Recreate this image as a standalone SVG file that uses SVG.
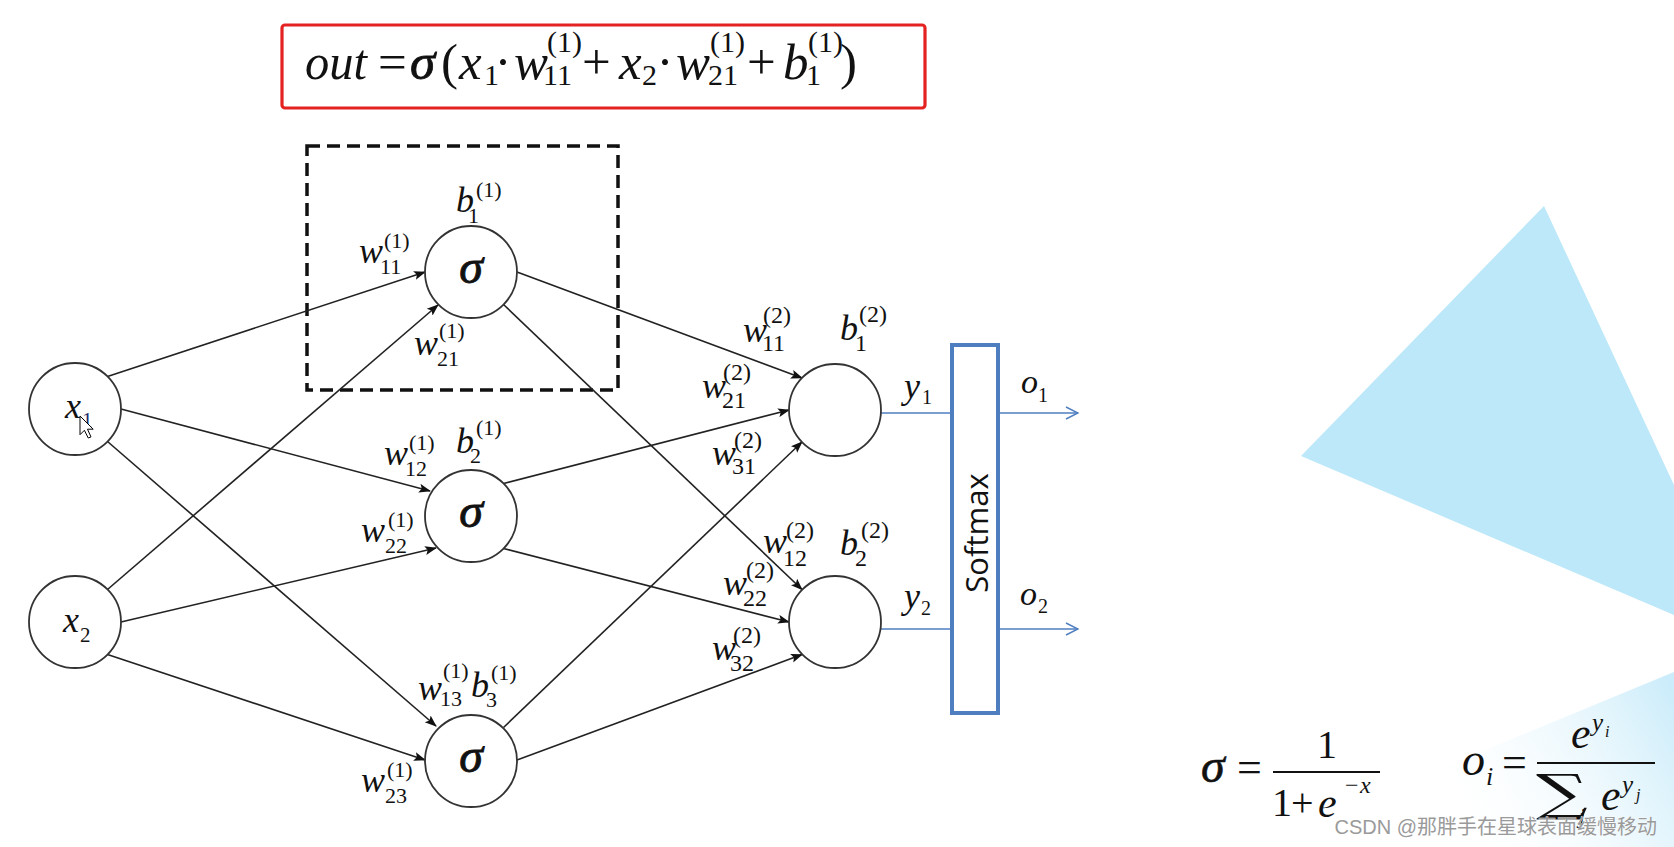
<svg xmlns="http://www.w3.org/2000/svg" width="1674" height="847" viewBox="0 0 1674 847">
<style>
text{font-family:"Liberation Serif","Times New Roman","DejaVu Serif",serif;fill:#111}
.i{font-style:italic}
.m{font-size:36px}
.s{font-size:22px}
.s2{font-size:24px}
.f{font-size:51px}
.fs{font-size:30px}
.node{fill:#fff;stroke:#333;stroke-width:1.8}
.edge{stroke:#222;stroke-width:1.6;fill:none;marker-end:url(#ah)}
.blue{stroke:#4F7EC0;stroke-width:1.6;fill:none}
.sig{font-size:48px;font-style:italic;text-anchor:middle;stroke:#111;stroke-width:0.9}
</style>
<defs>
<marker id="ah" viewBox="0 0 12 10" refX="11" refY="5" markerWidth="12" markerHeight="10" markerUnits="userSpaceOnUse" orient="auto">
<path d="M0,0.5 L12,5 L0,9.5 L2.5,5 z" fill="#111"/>
</marker>
<marker id="oa" viewBox="0 0 14 14" refX="13" refY="7" markerWidth="14" markerHeight="14" markerUnits="userSpaceOnUse" orient="auto">
<path d="M1,1 L13,7 L1,13" fill="none" stroke="#4F7EC0" stroke-width="1.4"/>
</marker>
<linearGradient id="fade" x1="1674" y1="690" x2="1440" y2="820" gradientUnits="userSpaceOnUse">
<stop offset="0" stop-color="#CBECFA"/>
<stop offset="1" stop-color="#ffffff" stop-opacity="0"/>
</linearGradient>
</defs>
<rect width="1674" height="847" fill="#fff"/>
<g id="background">
<polygon points="1544,206 1674,485 1674,615 1301,456" fill="#BDE8F9"/>
<polygon points="1674,672 1674,847 1250,847" fill="url(#fade)"/>
</g>
<g id="formula-box">
<rect x="282" y="25" width="643" height="83" rx="3" fill="#fff" stroke="#E52222" stroke-width="3.2"/>
<text class="f i" x="305" y="79" textLength="62" lengthAdjust="spacingAndGlyphs">out</text>
<text class="f" x="378" y="79">=</text>
<text class="f i" x="410" y="79" style="stroke:#111;stroke-width:0.8">σ</text>
<text class="f" x="441" y="79">(</text>
<text class="f i" x="459" y="79">x</text>
<text class="fs" x="484" y="85">1</text>
<text class="f" x="503" y="79" text-anchor="middle">·</text>
<text class="f i" x="514" y="79">w</text>
<text class="fs" x="547" y="52">(1)</text>
<text class="fs" x="543" y="85">11</text>
<text class="f" x="582" y="79">+</text>
<text class="f i" x="619" y="79">x</text>
<text class="fs" x="642" y="85">2</text>
<text class="f" x="665" y="79" text-anchor="middle">·</text>
<text class="f i" x="676" y="79">w</text>
<text class="fs" x="710" y="52">(1)</text>
<text class="fs" x="708" y="85">21</text>
<text class="f" x="747" y="79">+</text>
<text class="f i" x="783" y="79">b</text>
<text class="fs" x="808" y="52">(1)</text>
<text class="fs" x="806" y="85">1</text>
<text class="f" x="840" y="79">)</text>
</g>
<g id="dashed-box">
<rect x="307" y="146" width="311" height="244" fill="none" stroke="#111" stroke-width="3.5" stroke-dasharray="13 7"/>
</g>
<g id="connectors">
<line class="edge" x1="107.5" y1="376.5" x2="425" y2="272"/>
<line class="edge" x1="121" y1="409" x2="430" y2="491"/>
<line class="edge" x1="107.5" y1="441.5" x2="436" y2="726"/>
<line class="edge" x1="107.5" y1="589.5" x2="438" y2="305"/>
<line class="edge" x1="121" y1="622" x2="436" y2="548"/>
<line class="edge" x1="107.5" y1="654.5" x2="425" y2="760"/>
<line class="edge" x1="517" y1="272" x2="802" y2="378"/>
<line class="edge" x1="503.5" y1="304.5" x2="802" y2="589.5"/>
<line class="edge" x1="503.5" y1="483.5" x2="789" y2="410"/>
<line class="edge" x1="503.5" y1="548.5" x2="789" y2="622"/>
<line class="edge" x1="503.5" y1="727.5" x2="802" y2="442"/>
<line class="edge" x1="517" y1="760" x2="802" y2="654.5"/>
<line class="blue" x1="881" y1="413" x2="952" y2="413"/>
<line class="blue" x1="881" y1="629" x2="952" y2="629"/>
<line class="blue" x1="998" y1="413" x2="1078" y2="413" marker-end="url(#oa)"/>
<line class="blue" x1="998" y1="629" x2="1078" y2="629" marker-end="url(#oa)"/>
</g>
<g id="weight-labels">
<text class="m i" x="359" y="263">w</text><text class="s" x="384" y="248">(1)</text><text class="s" x="380" y="274">11</text>
<text class="m i" x="414" y="355">w</text><text class="s" x="439" y="338">(1)</text><text class="s" x="437" y="366">21</text>
<text class="m i" x="384" y="465">w</text><text class="s" x="409" y="450">(1)</text><text class="s" x="405" y="476">12</text>
<text class="m i" x="361" y="542">w</text><text class="s" x="388" y="527">(1)</text><text class="s" x="385" y="553">22</text>
<text class="m i" x="418" y="700">w</text><text class="s" x="443" y="678">(1)</text><text class="s" x="440" y="706">13</text>
<text class="m i" x="361" y="792">w</text><text class="s" x="387" y="777">(1)</text><text class="s" x="385" y="803">23</text>
<text class="m i" x="743" y="342">w</text><text class="s2" x="763" y="323">(2)</text><text class="s2" x="762" y="351">11</text>
<text class="m i" x="702" y="398">w</text><text class="s2" x="723" y="380">(2)</text><text class="s2" x="722" y="408">21</text>
<text class="m i" x="712" y="465">w</text><text class="s2" x="734" y="448">(2)</text><text class="s2" x="732" y="474">31</text>
<text class="m i" x="763" y="553">w</text><text class="s2" x="786" y="538">(2)</text><text class="s2" x="783" y="566">12</text>
<text class="m i" x="723" y="595">w</text><text class="s2" x="746" y="578">(2)</text><text class="s2" x="743" y="606">22</text>
<text class="m i" x="712" y="660">w</text><text class="s2" x="733" y="643">(2)</text><text class="s2" x="730" y="671">32</text>
</g>
<g id="node-x1">
<circle class="node" cx="75" cy="409" r="46"/>
<text class="i" x="65" y="418" style="font-size:36px">x</text>
<text x="82" y="427" style="font-size:21px;fill:#1a2a6a">1</text>
</g>
<g id="node-x2">
<circle class="node" cx="75" cy="622" r="46"/>
<text class="i" x="63" y="632" style="font-size:36px">x</text>
<text x="80" y="642" style="font-size:21px">2</text>
</g>
<g id="node-h1">
<circle class="node" cx="471" cy="272" r="46"/>
<text class="sig" x="471" y="283">σ</text>
<text class="m i" x="456" y="212">b</text><text class="s" x="468" y="223">1</text><text class="s" x="476" y="197">(1)</text>
</g>
<g id="node-h2">
<circle class="node" cx="471" cy="516" r="46"/>
<text class="sig" x="471" y="527">σ</text>
<text class="m i" x="456" y="453">b</text><text class="s" x="470" y="463">2</text><text class="s" x="476" y="435">(1)</text>
</g>
<g id="node-h3">
<circle class="node" cx="471" cy="761" r="46"/>
<text class="sig" x="471" y="772">σ</text>
<text class="m i" x="471" y="697">b</text><text class="s" x="486" y="707">3</text><text class="s" x="491" y="680">(1)</text>
</g>
<g id="node-y1">
<circle class="node" cx="835" cy="410" r="46"/>
<text class="m i" x="840" y="340">b</text><text class="s2" x="855" y="351">1</text><text class="s2" x="859" y="322">(2)</text>
<text class="i" x="904" y="398" style="font-size:36px">y</text><text x="922" y="404" style="font-size:20px">1</text>
</g>
<g id="node-y2">
<circle class="node" cx="835" cy="622" r="46"/>
<text class="m i" x="840" y="555">b</text><text class="s2" x="855" y="566">2</text><text class="s2" x="861" y="538">(2)</text>
<text class="i" x="904" y="608" style="font-size:36px">y</text><text x="921" y="615" style="font-size:20px">2</text>
</g>
<g id="node-softmax">
<rect x="952" y="345" width="46" height="368" fill="#fff" stroke="#4F7EC0" stroke-width="4"/>
<text transform="translate(988,533) rotate(-90)" text-anchor="middle" style="font-family:'Open Sans','Liberation Sans',sans-serif;font-size:31px">Softmax</text>
</g>
<g id="output-labels">
<text class="i" x="1021" y="393" style="font-size:34px">o</text><text x="1038" y="402" style="font-size:20px">1</text>
<text class="i" x="1020" y="605" style="font-size:34px">o</text><text x="1038" y="613" style="font-size:20px">2</text>
</g>
<g id="cursor">
<path d="M0,0 L0,17 L4,13 L7.5,20 L10,19 L6.8,12 L12,12 Z" transform="translate(80,416) scale(1.1)" fill="#fff" stroke="#000" stroke-width="0.9" stroke-linejoin="round"/>
</g>
<g id="sigmoid-formula">
<text class="i" x="1201" y="782" style="font-size:48px;stroke:#111;stroke-width:0.6">σ</text>
<text x="1237" y="782" style="font-size:44px">=</text>
<text x="1327" y="758" text-anchor="middle" style="font-size:40px">1</text>
<line x1="1273" y1="772" x2="1380" y2="772" stroke="#111" stroke-width="2.2"/>
<text x="1272" y="816" style="font-size:40px">1</text>
<text x="1291" y="816" style="font-size:40px">+</text>
<text class="i" x="1318" y="817" style="font-size:42px">e</text>
<text x="1345" y="793" style="font-size:24px">−</text>
<text class="i" x="1360" y="793" style="font-size:24px">x</text>
</g>
<g id="softmax-formula">
<text class="i" x="1462" y="775" style="font-size:46px">o</text>
<text class="i" x="1486" y="785" style="font-size:26px">i</text>
<text x="1502" y="777" style="font-size:44px">=</text>
<text class="i" x="1571" y="748" style="font-size:44px">e</text>
<text class="i" x="1592" y="731" style="font-size:25px">y</text>
<text class="i" x="1605" y="737" style="font-size:16px">i</text>
<line x1="1537" y1="763" x2="1655" y2="763" stroke="#111" stroke-width="2.2"/>
<text transform="translate(1536,810) scale(1.45,1)" style="font-family:'DejaVu Serif',serif;font-size:50px">∑</text>
<text class="i" x="1579" y="823" style="font-size:22px">j</text>
<text class="i" x="1601" y="810" style="font-size:44px">e</text>
<text class="i" x="1622" y="793" style="font-size:25px">y</text>
<text class="i" x="1636" y="800" style="font-size:16px">j</text>
</g>
<g id="watermark">
<text x="1657" y="834" text-anchor="end" style="font-family:'Liberation Sans','Noto Sans CJK SC',sans-serif;font-size:20px;fill:#9a9a9a;stroke:#fff;stroke-width:0.6;paint-order:stroke">CSDN @那胖手在星球表面缓慢移动</text>
</g>
</svg>
